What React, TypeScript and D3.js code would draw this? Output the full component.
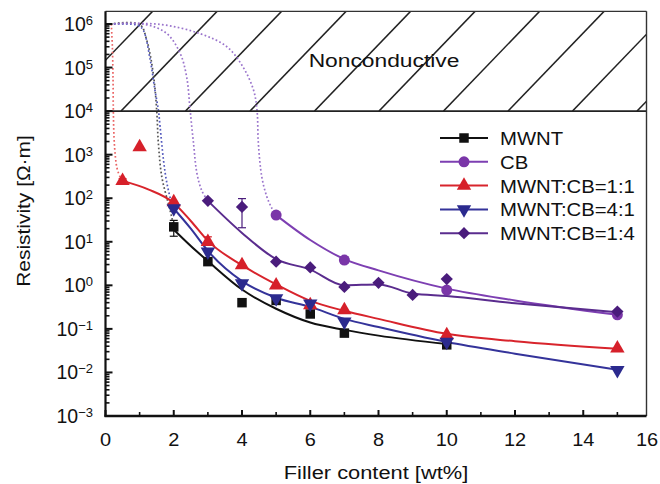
import React from "react";
import * as d3 from "d3";

// ---------- data ----------
const xTicks = [0, 2, 4, 6, 8, 10, 12, 14, 16];
const yExps = [-3, -2, -1, 0, 1, 2, 3, 4, 5, 6];

const legendLabels = ["MWNT", "CB", "MWNT:CB=1:1", "MWNT:CB=4:1", "MWNT:CB=1:4"];

// measured points
const mwntX = [2, 3, 4, 5, 6, 7, 10];
const mwntY = [22, 3.5, 0.4, 0.45, 0.22, 0.08, 0.043];
const cbX = [5, 7, 10, 15];
const cbY = [41, 3.8, 0.78, 0.21];
const r11X = [0.5, 1, 2, 3, 4, 5, 6, 7, 10, 15];
const r11Y = [250, 1500, 82, 10, 2.9, 1.0, 0.35, 0.27, 0.072, 0.036];
const r41X = [2, 3, 4, 5, 6, 7, 10, 15];
const r41Y = [58, 5.9, 1.1, 0.5, 0.38, 0.146, 0.05, 0.0113];
const r14X = [3, 4, 5, 6, 7, 8, 9, 10, 15];
const r14Y = [87, 63, 3.5, 2.57, 0.92, 1.14, 0.6, 1.39, 0.25];

// fitted solid curves
const mwntFitX = [2, 2.5, 3, 4, 5, 6, 7, 8, 10];
const mwntFitY = [19, 8, 3.6, 0.8, 0.29, 0.14, 0.095, 0.07, 0.045];
const cbFitX = [5, 6, 7, 8, 10, 12, 15];
const cbFitY = [41, 11, 4.0, 2.2, 0.84, 0.45, 0.21];
const r11FitX = [0.5, 1.25, 2, 2.5, 3, 4, 5, 6, 7, 8, 10, 12, 15];
const r11FitY = [250, 160, 78, 30, 10.5, 2.9, 1.05, 0.44, 0.26, 0.17, 0.077, 0.052, 0.035];
const r41FitX = [2, 2.5, 3, 4, 5, 6, 7, 8, 10, 12, 15];
const r41FitY = [58, 20, 6.2, 1.25, 0.52, 0.32, 0.17, 0.11, 0.05, 0.027, 0.0115];
const r14FitX = [3, 4, 5, 6, 7, 8, 9, 10, 12, 15];
const r14FitY = [87, 16, 4.0, 2.3, 1.0, 1.05, 0.65, 0.57, 0.39, 0.24];

// dotted percolation curves
const mwntPercX = [0.13, 1.0, 1.21, 1.4, 1.5, 1.55, 1.65, 1.84, 1.94, 2.0];
const mwntPercY = [1e6, 9.8e5, 4.2e5, 7.2e4, 1.05e4, 1.8e3, 310, 76, 37, 22];
const r41PercX = [0.13, 0.95, 1.11, 1.31, 1.45, 1.55, 1.6, 1.7, 1.8, 1.94, 2.0];
const r41PercY = [1e6, 9.3e5, 7.1e5, 1.5e5, 3e4, 1.05e4, 4.4e3, 740, 220, 76, 58];
const r14PercX = [0.13, 1.16, 1.8, 2.19, 2.38, 2.48, 2.58, 2.68, 2.82, 3.0];
const r14PercY = [1e6, 9.8e5, 6e5, 2.1e5, 6e4, 1.05e4, 1.8e3, 370, 150, 87];
const cbPercX = [0.13, 1.6, 2.77, 3.56, 4.04, 4.34, 4.44, 4.48, 4.58, 4.73, 4.88, 5.0];
const cbPercY = [1e6, 9.8e5, 6e5, 3e5, 1e5, 3e4, 1.05e4, 1.8e3, 310, 107, 58, 41];
const r11PercX = [0.17, 0.2, 0.22, 0.23, 0.25, 0.29, 0.34, 0.43, 0.5];
const r11PercY = [1e6, 3.2e5, 6.3e4, 1e4, 2.5e3, 890, 480, 310, 270];

// error bars: [x, low, high]
const mwntErr = [[2, 13.4, 31]];
const r14Err = [[4, 21, 98]];
const r11Err = [[0.5, 225, 280], [3, 8.5, 13]];
const cbErr = [[7, 3.2, 4.5]];

const nonconductiveLabel = "Nonconductive";
const xTitle = "Filler content [wt%]";
const yTitle = "Resistivity [Ω·m]";

// ---------- layout ----------
const W = 660, H = 484;
const x = d3.scaleLinear().domain([0, 16]).range([105.5, 651.5]);
const y = d3.scaleLog().domain([1e-3, 1e6]).range([416, 24]);
const left = x(0), bottom = y(1e-3);
const right = 646.5;
const top = y(Math.pow(10, 6.29));
const ncBottom = y(1e4);

const FONT = "'Liberation Sans', Arial, Helvetica, sans-serif";

const fitLine = d3.line<[number, number]>().x(d => x(d[0])).y(d => y(d[1])).curve(d3.curveMonotoneX);
const percLine = d3.line<[number, number]>().x(d => x(d[0])).y(d => y(d[1])).curve(d3.curveCatmullRom.alpha(0.5));
const zip = (a: number[], b: number[]) => a.map((v, i) => [v, b[i]] as [number, number]);

const sym = (type: any, size: number) => d3.symbol().type(type).size(size)() as string;

const series = [
  { label: legendLabels[0], xs: mwntX, ys: mwntY, fx: mwntFitX, fy: mwntFitY, px: mwntPercX, py: mwntPercY, err: mwntErr,
    color: "#111111", line: "#111111", dot: "#555555", shape: sym(d3.symbolSquare, 90), rot: 0 },
  { label: legendLabels[1], xs: cbX, ys: cbY, fx: cbFitX, fy: cbFitY, px: cbPercX, py: cbPercY, err: cbErr,
    color: "#7a36a8", line: "#7d3fb2", dot: "#9a74cc", shape: sym(d3.symbolCircle, 95), rot: 0 },
  { label: legendLabels[2], xs: r11X, ys: r11Y, fx: r11FitX, fy: r11FitY, px: r11PercX, py: r11PercY, err: r11Err,
    color: "#d6202a", line: "#d8242c", dot: "#ea6464", shape: sym(d3.symbolTriangle, 90), rot: 0 },
  { label: legendLabels[3], xs: r41X, ys: r41Y, fx: r41FitX, fy: r41FitY, px: r41PercX, py: r41PercY, err: [] as number[][],
    color: "#2b2a8e", line: "#34339a", dot: "#5258bd", shape: sym(d3.symbolTriangle, 90), rot: 180 },
  { label: legendLabels[4], xs: r14X, ys: r14Y, fx: r14FitX, fy: r14FitY, px: r14PercX, py: r14PercY, err: r14Err,
    color: "#4a1c7c", line: "#5a2c8e", dot: "#9a74cc", shape: sym(d3.symbolSquare, 75), rot: 45 },
];

// hatch lines (decorative) in the nonconductive band
const hatchStart = 121, hatchStep = 64.5, hatchRun = 96;
const hatchK = d3.range(-1, 9);

function Txt(props: { x: number; y: number; anchor?: string; size: number; sx?: number; rot?: number; children: any }) {
  const { x: tx, y: ty, anchor = "start", size, sx = 1.1, rot = 0, children } = props;
  return (
    <g transform={`translate(${tx},${ty}) rotate(${rot}) scale(${sx},1)`}>
      <text x={0} y={0} textAnchor={anchor} fontSize={size} fontFamily={FONT} fill="#111">{children}</text>
    </g>
  );
}

export default function App() {
  const yMinor: number[] = [];
  for (let e = -3; e < 6; e++) for (let m = 2; m <= 9; m++) yMinor.push(m * Math.pow(10, e));
  for (let m = 2; m <= 9; m++) if (Math.log10(m * 1e6) <= 6.29) yMinor.push(m * 1e6);
  const xMinor = d3.range(1, 16, 2);

  return (
    <svg width={W} height={H} style={{ position: "absolute", left: 0, top: 0, background: "#fff" }}>
      <defs>
        <clipPath id="nc">
          <rect x={left} y={top} width={right - left} height={ncBottom - top} />
        </clipPath>
        <clipPath id="plot">
          <rect x={left} y={top} width={right - left} height={bottom - top} />
        </clipPath>
      </defs>
      <rect x={0} y={0} width={W} height={H} fill="#fff" />

      {/* hatching */}
      <g clipPath="url(#nc)">
        {hatchK.map(k => {
          const bx = hatchStart + hatchStep * k;
          return <line key={k} x1={bx} y1={ncBottom} x2={bx + hatchRun} y2={top} stroke="#222" strokeWidth={1.5} />;
        })}
      </g>
      <Txt x={384} y={67} anchor="middle" size={19} sx={1.2}>{nonconductiveLabel}</Txt>

      {/* dotted percolation curves */}
      <g clipPath="url(#plot)">
        {series.map((s, i) => (
          <path key={"p" + i} d={percLine(zip(s.px, s.py)) || ""} fill="none" stroke={s.dot}
            strokeWidth={1.7} strokeDasharray="1.7,2.3" />
        ))}
      </g>

      {/* fit lines */}
      {series.map((s, i) => (
        <path key={"f" + i} d={fitLine(zip(s.fx, s.fy)) || ""} fill="none" stroke={s.line} strokeWidth={2} />
      ))}

      {/* error bars */}
      {series.map((s, i) => (
        <g key={"e" + i} stroke={s.color} strokeWidth={1.2}>
          {s.err.map((e, j) => (
            <g key={j}>
              <line x1={x(e[0])} x2={x(e[0])} y1={y(e[1])} y2={y(e[2])} />
              <line x1={x(e[0]) - 4} x2={x(e[0]) + 4} y1={y(e[1])} y2={y(e[1])} />
              <line x1={x(e[0]) - 4} x2={x(e[0]) + 4} y1={y(e[2])} y2={y(e[2])} />
            </g>
          ))}
        </g>
      ))}

      {/* markers */}
      {series.map((s, i) => (
        <g key={"m" + i} fill={s.color}>
          {s.xs.map((v, j) => (
            <path key={j} d={s.shape} transform={`translate(${x(v)},${y(s.ys[j])}) rotate(${s.rot})`} />
          ))}
        </g>
      ))}

      {/* frame */}
      <line x1={left} x2={right} y1={ncBottom} y2={ncBottom} stroke="#222" strokeWidth={1.6} />
      <line x1={left} x2={right} y1={top} y2={top} stroke="#333" strokeWidth={1.4} />
      <line x1={right} x2={right} y1={top} y2={bottom} stroke="#333" strokeWidth={1.4} />
      <line x1={left} x2={left} y1={top} y2={bottom + 1} stroke="#111" strokeWidth={2.2} />
      <line x1={left - 1} x2={right} y1={bottom} y2={bottom} stroke="#111" strokeWidth={2.4} />

      {/* y ticks */}
      {yExps.map(e => (
        <line key={"ym" + e} x1={left} x2={left + 7} y1={y(Math.pow(10, e))} y2={y(Math.pow(10, e))} stroke="#111" strokeWidth={2} />
      ))}
      {yMinor.map((v, i) => (
        <line key={"yn" + i} x1={left} x2={left + 4} y1={y(v)} y2={y(v)} stroke="#111" strokeWidth={1.6} />
      ))}
      {yExps.map(e => (
        <g key={"yl" + e} transform={`translate(93,${y(Math.pow(10, e)) + 7})`}>
          <text textAnchor="end" fontFamily={FONT} fontSize={19.5} fill="#111">
            <tspan>10</tspan>
            <tspan dy={-6} fontSize={13}>{e < 0 ? "\u2212" + Math.abs(e) : String(e)}</tspan>
          </text>
        </g>
      ))}

      {/* x ticks */}
      {xTicks.filter(v => x(v) < right).map(v => (
        <line key={"xm" + v} x1={x(v)} x2={x(v)} y1={bottom} y2={bottom - 6} stroke="#111" strokeWidth={2} />
      ))}
      {xMinor.map(v => (
        <line key={"xn" + v} x1={x(v)} x2={x(v)} y1={bottom} y2={bottom - 4} stroke="#111" strokeWidth={1.6} />
      ))}
      {xTicks.map(v => {
        const px = Math.min(x(v), W - 13);
        return <Txt key={"xl" + v} x={px} y={446} anchor="middle" size={19} sx={1.05}>{String(v)}</Txt>;
      })}

      {/* axis titles */}
      <Txt x={376} y={479} anchor="middle" size={19} sx={1.15}>{xTitle}</Txt>
      <Txt x={30} y={211} anchor="middle" size={19} sx={1.1} rot={-90}>{yTitle}</Txt>

      {/* legend */}
      {series.map((s, i) => {
        const ly = 138 + i * 23.8;
        return (
          <g key={"lg" + i}>
            <line x1={440} x2={488} y1={ly} y2={ly} stroke={s.line} strokeWidth={2} />
            <path d={s.shape} transform={`translate(464,${ly}) rotate(${s.rot})`} fill={s.color} />
            <Txt x={500} y={ly + 7} size={19} sx={1.07}>{s.label}</Txt>
          </g>
        );
      })}
    </svg>
  );
}
